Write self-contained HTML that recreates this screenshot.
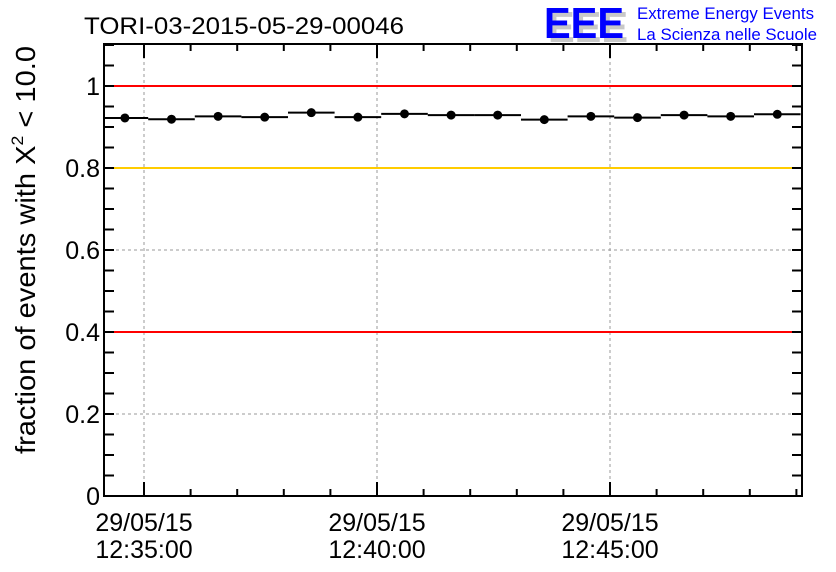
<!DOCTYPE html>
<html><head><meta charset="utf-8"><style>
body{margin:0;background:#fff;width:836px;height:572px;overflow:hidden}
svg{display:block;font-family:"Liberation Sans",sans-serif}
</style></head><body>
<svg id="chart" width="836" height="572" viewBox="0 0 836 572" xmlns="http://www.w3.org/2000/svg">
<text x="84" y="34" font-size="24" textLength="320" lengthAdjust="spacingAndGlyphs">TORI-03-2015-05-29-00046</text>
<g>
<text x="548" y="42" font-size="44" font-weight="bold" fill="#c8c8c8" textLength="80" lengthAdjust="spacingAndGlyphs">EEE</text>
<text x="544" y="38" font-size="44" font-weight="bold" fill="#0000ff" textLength="80" lengthAdjust="spacingAndGlyphs">EEE</text>
<text x="637" y="19" font-size="17" fill="#0000ff" textLength="177" lengthAdjust="spacingAndGlyphs">Extreme Energy Events</text>
<text x="637" y="40" font-size="17" fill="#0000ff" textLength="180" lengthAdjust="spacingAndGlyphs">La Scienza nelle Scuole</text>
</g>
<text transform="translate(35,250) rotate(-90)" text-anchor="middle" font-size="28" textLength="408" lengthAdjust="spacingAndGlyphs">fraction of events with X<tspan dy="-12" font-size="17">2</tspan><tspan dy="12"> &lt; 10.0</tspan></text>
<g id="grid"></g>
<g id="refs"></g>
<g id="axes"></g>
<g id="series"></g>
</svg>
<script>
const values=[0.922,0.919,0.926,0.924,0.935,0.924,0.932,0.929,0.929,0.918,0.926,0.923,0.929,0.926,0.931];
const binStartMin=[-0.91,0.09,1.09,2.09,3.09,4.09,5.09,6.09,7.09,8.09,9.09,10.09,11.09,12.09,13.09];
const yTicks=[0,0.2,0.4,0.6,0.8,1];
const yTickLabels=["0","0.2","0.4","0.6","0.8","1"];
const xTickMin=[0,5,10];
const xTickLabels1=["29/05/15","29/05/15","29/05/15"];
const xTickLabels2=["12:35:00","12:40:00","12:45:00"];
const refLines=[1,0.8,0.4];
const refColors=["#ff0000","#ffcc00","#ff0000"];

const L=104,R=802,T=44,B=496;
const y=v=>B-v*410;
const x=m=>144+m*46.6;
const NS="http://www.w3.org/2000/svg";
function mk(parent,tag,attrs){const e=document.createElementNS(NS,tag);for(const k in attrs)e.setAttribute(k,attrs[k]);parent.appendChild(e);return e;}
const grid=document.getElementById('grid'),axes=document.getElementById('axes'),refs=document.getElementById('refs'),series=document.getElementById('series');
yTicks.forEach(v=>{if(v>0&&v<1.1){const g=mk(grid,'line',{x1:L,x2:R,y1:y(v),y2:y(v),stroke:'#999','stroke-dasharray':'3,3','stroke-width':1});}});
xTickMin.forEach(m=>{const g=mk(grid,'line',{x1:x(m),x2:x(m),y1:T,y2:B,stroke:'#999','stroke-dasharray':'3,3','stroke-width':1});});
// ticks
for(let k=0;k<=22;k++){const yy=y(k*0.05);
mk(axes,'line',{x1:L,x2:L+10,y1:yy,y2:yy,stroke:'#000','stroke-width':2});
mk(axes,'line',{x1:R,x2:R-10,y1:yy,y2:yy,stroke:'#000','stroke-width':2});}
for(let mm=-1;mm<=14;mm++){const xx=x(mm);if(xx<L||xx>R)continue;const len=(mm%5===0)?14:7;
mk(axes,'line',{x1:xx,x2:xx,y1:B,y2:B-len,stroke:'#000','stroke-width':2});
mk(axes,'line',{x1:xx,x2:xx,y1:T,y2:T+len,stroke:'#000','stroke-width':2});}
refLines.forEach((v,i)=>{const l=mk(refs,'line',{x1:L,x2:R,y1:y(v),y2:y(v),stroke:refColors[i],'stroke-width':2});});
const f=mk(axes,'rect',{x:L,y:T,width:R-L,height:B-T,fill:'none',stroke:'#000','stroke-width':2});

yTicks.forEach((v,i)=>{const t=mk(axes,'text',{x:L-4,y:y(v)+9,'text-anchor':'end','font-size':25});t.textContent=yTickLabels[i];});
xTickMin.forEach((m,i)=>{const t=mk(axes,'text',{x:x(m),y:531,'text-anchor':'middle','font-size':25});t.textContent=xTickLabels1[i];
const t2=mk(axes,'text',{x:x(m),y:558,'text-anchor':'middle','font-size':25});t2.textContent=xTickLabels2[i];});
values.forEach((v,i)=>{const x0=Math.max(L,x(binStartMin[i])),x1=Math.min(R,x(binStartMin[i]+1));
const s=mk(series,'line',{x1:x0,x2:x1,y1:y(v),y2:y(v),stroke:'#000','stroke-width':2});
const c=mk(series,'circle',{cx:x(binStartMin[i]+0.5),cy:y(v),r:4.5,fill:'#000'});});
</script>
</body></html>
